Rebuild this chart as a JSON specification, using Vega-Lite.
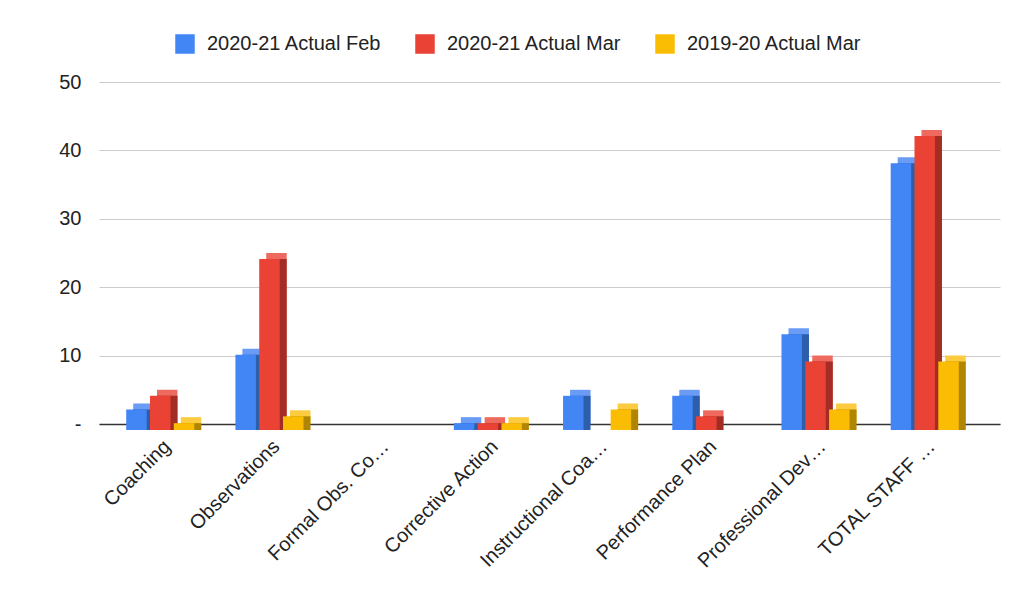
{
  "$schema": "https://vega.github.io/schema/vega-lite/v6.json",
  "autosize": {"type": "none"},
  "width": 901,
  "height": 342,
  "padding": {"left": 99, "top": 82, "right": 19, "bottom": 169},
  "background": "white",
  "config": {"view": {"stroke": null}, "font": "Liberation Sans"},
  "data": {"values": [
    {"category": "Coaching", "series": "2020-21 Actual Feb", "value": 3},
    {"category": "Coaching", "series": "2020-21 Actual Mar", "value": 5},
    {"category": "Coaching", "series": "2019-20 Actual Mar", "value": 1},
    {"category": "Observations", "series": "2020-21 Actual Feb", "value": 11},
    {"category": "Observations", "series": "2020-21 Actual Mar", "value": 25},
    {"category": "Observations", "series": "2019-20 Actual Mar", "value": 2},
    {"category": "Formal Obs. Co…", "series": "2020-21 Actual Feb", "value": null},
    {"category": "Formal Obs. Co…", "series": "2020-21 Actual Mar", "value": null},
    {"category": "Formal Obs. Co…", "series": "2019-20 Actual Mar", "value": 0},
    {"category": "Corrective Action", "series": "2020-21 Actual Feb", "value": 1},
    {"category": "Corrective Action", "series": "2020-21 Actual Mar", "value": 1},
    {"category": "Corrective Action", "series": "2019-20 Actual Mar", "value": 1},
    {"category": "Instructional Coa…", "series": "2020-21 Actual Feb", "value": 5},
    {"category": "Instructional Coa…", "series": "2020-21 Actual Mar", "value": null},
    {"category": "Instructional Coa…", "series": "2019-20 Actual Mar", "value": 3},
    {"category": "Performance Plan", "series": "2020-21 Actual Feb", "value": 5},
    {"category": "Performance Plan", "series": "2020-21 Actual Mar", "value": 2},
    {"category": "Performance Plan", "series": "2019-20 Actual Mar", "value": 0},
    {"category": "Professional Dev…", "series": "2020-21 Actual Feb", "value": 14},
    {"category": "Professional Dev…", "series": "2020-21 Actual Mar", "value": 10},
    {"category": "Professional Dev…", "series": "2019-20 Actual Mar", "value": 3},
    {"category": "TOTAL STAFF …", "series": "2020-21 Actual Feb", "value": 39},
    {"category": "TOTAL STAFF …", "series": "2020-21 Actual Mar", "value": 43},
    {"category": "TOTAL STAFF …", "series": "2019-20 Actual Mar", "value": 10}
  ]},
  "encoding": {
    "x": {
      "field": "category", "type": "nominal", "sort": null,
      "scale": {"paddingInner": 0.346, "paddingOuter": 0.298},
      "axis": {
        "title": null, "labelAngle": -45, "labelAlign": "right", "labelBaseline": "top",
        "labelPadding": 12, "labelOffset": -7, "ticks": false, "domainColor": "#333333", "domainWidth": 1.5,
        "labelFontSize": 20, "labelColor": "#222222", "labelLimit": 400
      }
    },
    "y": {
      "field": "value", "type": "quantitative",
      "scale": {"domain": [0, 50]},
      "axis": {
        "title": null, "values": [0, 10, 20, 30, 40, 50],
        "labelExpr": "datum.value == 0 ? '-' : datum.label",
        "ticks": false, "domain": false, "gridColor": "#cccccc", "gridWidth": 1,
        "labelPadding": 18, "labelFontSize": 20, "labelColor": "#222222"
      }
    }
  },
  "layer": [
    {
      "mark": {"type": "bar", "yOffset": 0, "y2Offset": 0},
      "encoding": {
        "xOffset": {
          "field": "series", "type": "nominal",
          "sort": ["2020-21 Actual Feb", "2020-21 Actual Mar", "2019-20 Actual Mar"],
          "scale": {"paddingInner": 0.14, "paddingOuter": 0.07, "range": [0, 71.4]}
        },
        "color": {
          "field": "series", "type": "nominal",
          "scale": {"domain": ["2020-21 Actual Feb", "2020-21 Actual Mar", "2019-20 Actual Mar"], "range": ["#6a9cf6", "#ee6a5f", "#fccb3f"]},
          "legend": null
        }
      }
    },
    {
      "mark": {"type": "bar", "yOffset": 6, "y2Offset": 6},
      "encoding": {
        "xOffset": {
          "field": "series", "type": "nominal",
          "sort": ["2020-21 Actual Feb", "2020-21 Actual Mar", "2019-20 Actual Mar"],
          "scale": {"paddingInner": 0.14, "paddingOuter": 0.07, "range": [0, 71.4]}
        },
        "color": {
          "field": "series", "type": "nominal",
          "scale": {"domain": ["2020-21 Actual Feb", "2020-21 Actual Mar", "2019-20 Actual Mar"], "range": ["#2d5eac", "#a32d25", "#b08502"]},
          "legend": null
        }
      }
    },
    {
      "mark": {"type": "bar", "yOffset": 6, "y2Offset": 6},
      "encoding": {
        "xOffset": {
          "field": "series", "type": "nominal",
          "sort": ["2020-21 Actual Feb", "2020-21 Actual Mar", "2019-20 Actual Mar"],
          "scale": {"paddingInner": 0.14, "paddingOuter": 0.07, "range": [-7, 64.4]}
        },
        "color": {
          "field": "series", "type": "nominal",
          "scale": {"domain": ["2020-21 Actual Feb", "2020-21 Actual Mar", "2019-20 Actual Mar"], "range": ["#4285f4", "#ea4335", "#fbbc04"]},
          "legend": {
            "orient": "none", "legendX": 76, "legendY": -48, "direction": "horizontal",
            "title": null, "symbolType": "square", "symbolSize": 380, "symbolStrokeWidth": 0,
            "labelFontSize": 20, "labelOffset": 12, "columnPadding": 33, "labelLimit": 400,
            "labelColor": "#222222", "padding": 0
          }
        }
      }
    }
  ],
  "resolve": {"scale": {"color": "independent", "xOffset": "independent"}}
}
